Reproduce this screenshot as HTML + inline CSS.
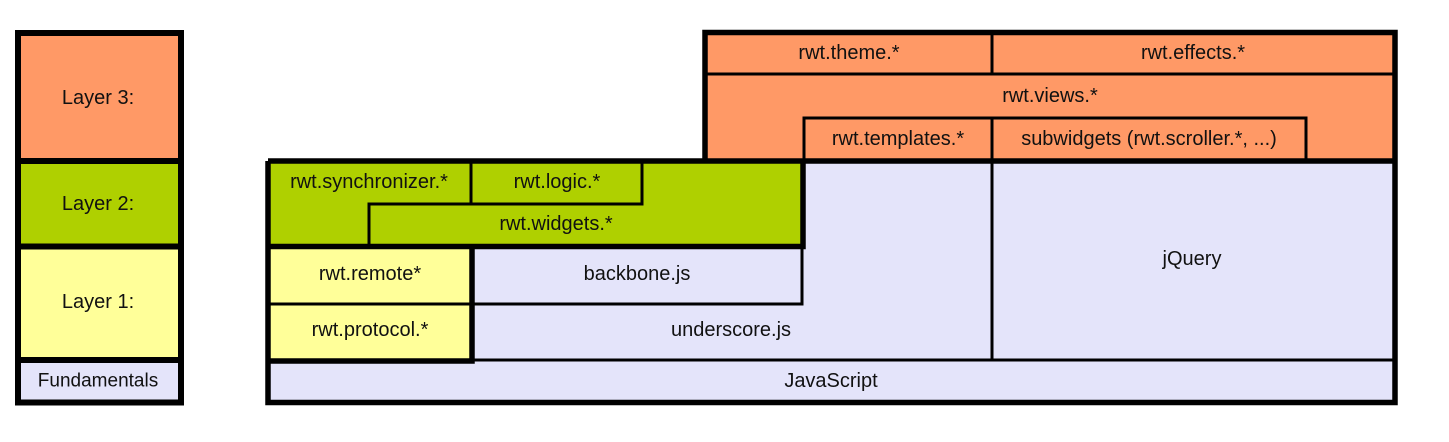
<!DOCTYPE html>
<html><head><meta charset="utf-8"><style>
html,body{margin:0;padding:0;background:#fff;}
svg{display:block;}
text{font-family:"Liberation Sans",Arial,sans-serif;font-size:20px;fill:#111;text-anchor:middle;dominant-baseline:central;}
</style></head><body>
<svg width="1449" height="442" viewBox="0 0 1449 442" xmlns="http://www.w3.org/2000/svg">
<rect x="18" y="33" width="163" height="128" fill="#FF9966"/>
<rect x="18" y="161" width="163" height="86" fill="#AFD000"/>
<rect x="18" y="247" width="163" height="113" fill="#FFFF99"/>
<rect x="18" y="360" width="163" height="42" fill="#E4E4FA"/>
<g stroke="#000" stroke-width="6" fill="none">
<rect x="18" y="33" width="163" height="369.5"/>
<line x1="18" y1="161" x2="181" y2="161"/>
<line x1="18" y1="246.5" x2="181" y2="246.5"/>
<line x1="18" y1="360" x2="181" y2="360"/>
</g>
<text x="98" y="98">Layer 3:</text>
<text x="98" y="204">Layer 2:</text>
<text x="98" y="302">Layer 1:</text>
<text x="98" y="381" style="font-size:19px">Fundamentals</text>

<rect x="268" y="161" width="1127" height="241" fill="#E4E4FA"/>
<rect x="705" y="33" width="690" height="128" fill="#FF9966"/>
<rect x="268" y="161" width="535" height="86" fill="#AFD000"/>
<rect x="268" y="247" width="204" height="113" fill="#FFFF99"/>

<g stroke="#000" stroke-width="3" fill="none">
<line x1="705" y1="74" x2="1395" y2="74"/>
<line x1="992" y1="33" x2="992" y2="74"/>
<polyline points="804,161 804,118 1306,118 1306,161"/>
<line x1="992" y1="118" x2="992" y2="360"/>
<line x1="471" y1="161" x2="471" y2="204"/>
<polyline points="369,247 369,204 642,204 642,161"/>
<polyline points="472,304 802,304 802,247"/>
<line x1="472" y1="304" x2="268" y2="304"/>
<line x1="472" y1="360" x2="1395" y2="360"/>
</g>
<g stroke="#000" stroke-width="5.5" fill="none">
<polyline points="268,161 268,402.5 1395,402.5 1395,32.5 705,32.5 705,161"/>
<line x1="268" y1="161" x2="1395" y2="161"/>
<polyline points="268,246.5 803,246.5 803,161"/>
<polyline points="472,246.5 472,361 268,361"/>
</g>

<text x="849" y="53">rwt.theme.*</text>
<text x="1193" y="53">rwt.effects.*</text>
<text x="1050" y="96">rwt.views.*</text>
<text x="898" y="139">rwt.templates.*</text>
<text x="1149" y="139">subwidgets (rwt.scroller.*, ...)</text>
<text x="369" y="182">rwt.synchronizer.*</text>
<text x="557" y="182">rwt.logic.*</text>
<text x="556" y="224">rwt.widgets.*</text>
<text x="370" y="274">rwt.remote*</text>
<text x="370" y="330">rwt.protocol.*</text>
<text x="637" y="274">backbone.js</text>
<text x="731" y="330">underscore.js</text>
<text x="1192" y="259">jQuery</text>
<text x="831" y="381">JavaScript</text>
</svg>
</body></html>
